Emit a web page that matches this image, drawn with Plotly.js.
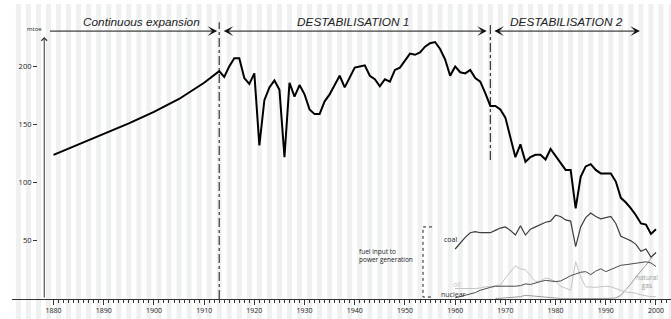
<!DOCTYPE html>
<html>
<head>
<meta charset="utf-8">
<script src="https://cdn.plot.ly/plotly-3.0.1.min.js"></script>
<style>html,body{margin:0;padding:0;background:#fff;}#chart{width:671px;height:319px;}</style>
</head>
<body>
<div id="chart"></div>
<script>
// ---- Data ----
const mainYears = [1880,1885,1890,1895,1900,1905,1910,1913,1914,1915,1916,1917,1918,1919,1920,1921,1922,1923,1924,1925,1926,1927,1928,1929,1930,1931,1932,1933,1934,1935,1936,1937,1938,1939,1940,1941,1942,1943,1944,1945,1946,1947,1948,1949,1950,1951,1952,1953,1954,1955,1956,1957,1958,1959,1960,1961,1962,1963,1964,1965,1966,1967,1968,1969,1970,1971,1972,1973,1974,1975,1976,1977,1978,1979,1980,1981,1982,1983,1984,1985,1986,1987,1988,1989,1990,1991,1992,1993,1994,1995,1996,1997,1998,1999,2000];
const mainValues = [124,133,142,151,161,172,186,196,191,200,207,207,190,185,194,132,171,182,188,180,122,186,174,184,176,163,159,159,170,176,184,192,182,191,199,200,201,192,189,183,189,187,197,199,205,211,210,212,217,220,221,215,206,192,200,195,194,197,190,187,177,166,166,163,156,140,122,133,118,122,124,124,120,129,123,118,111,111,78,105,114,116,111,108,108,108,101,87,83,78,72,65,64,56,60];

const powerYears = [1960,1961,1962,1963,1964,1965,1966,1967,1968,1969,1970,1971,1972,1973,1974,1975,1976,1977,1978,1979,1980,1981,1982,1983,1984,1985,1986,1987,1988,1989,1990,1991,1992,1993,1994,1995,1996,1997,1998,1999,2000];
const coalValues = [43,48,53,57,58,57,57,57,59,61,62,59,55,63,55,60,62,64,66,67,72,71,68,67,45,62,70,74,71,69,70,71,65,54,52,50,47,41,43,36,40];
const oilValues = [9,9,8.5,8.5,9,9.5,10.5,10.5,11,12,18,23,28.5,26,25,20,15,15.5,18,17,15,11,9.5,7.5,32,19,10.5,10,10,10.5,11,10.5,9,8,6,5.5,5,3.5,2.5,2,2];
const nuclearValues = [1,2,3,4,5.5,7.5,9,10,11,11,11,10.5,11,11.5,13,12.5,14,15,16,15.5,15,15.5,18,20,21.5,23,23.5,21,24,26,23.5,25.5,27,29,29.5,30,30.5,31,32,31,28];
const gasYears = [1968,1969,1970,1971,1972,1973,1974,1975,1976,1977,1978,1979,1980,1981,1982,1983,1984,1985,1986,1987,1988,1989,1990,1991,1992,1993,1994,1995,1996,1997,1998,1999,2000];
const gasValues = [0.3,0.6,1,1.5,2,2,3.2,2.8,2,1.5,1,0.8,0.5,0.4,0.3,0.3,0.3,0.3,0.3,0.3,0.3,0.4,0.5,0.5,1,3,8,13,19,24,29,35,40];

const xTickVals = [1880,1890,1900,1910,1920,1930,1940,1950,1960,1970,1980,1990,2000];
const yTickVals = [50,100,150,200];

const phaseLines = [1913, 1967];
const phaseNames = ['Continuous expansion', 'DESTABILISATION 1', 'DESTABILISATION 2'];
const phaseStart = [1879, 1913.6, 1967.5];
const phaseEnd = [1912.6, 1966.3, 1996.8];

// ---- Layout ----
const X0 = 1871.73, X1 = 2002.99;
const Y0 = -17.2, Y1 = 253.7;

const traces = [
  {x: gasYears, y: gasValues, mode: 'lines', line: {color: '#9a9a9a', width: 1}},
  {x: powerYears, y: oilValues, mode: 'lines', line: {color: '#c4c4c4', width: 1}},
  {x: powerYears, y: nuclearValues, mode: 'lines', line: {color: '#4a4a4a', width: 1}},
  {x: powerYears, y: coalValues, mode: 'lines', line: {color: '#3c3c3c', width: 1.2}},
  {x: mainYears, y: mainValues, mode: 'lines', line: {color: '#000', width: 2}}
];

const shapes = [];
for (let yr = 1871; yr <= 2003; yr++) {
  if (yr % 2 === 1) {
    shapes.push({type: 'rect', xref: 'x', yref: 'paper', x0: yr - 0.5, x1: yr + 0.5, y0: 0, y1: 1,
      fillcolor: '#eff1f1', line: {width: 0}, layer: 'below'});
  }
}
shapes.push({type: 'line', xref: 'x', yref: 'y', x0: phaseLines[0], x1: phaseLines[0], y0: 0, y1: 238,
  line: {color: '#111', width: 1, dash: 'dashdot'}});
shapes.push({type: 'line', xref: 'x', yref: 'y', x0: phaseLines[1], x1: phaseLines[1], y0: 119.5, y1: 238,
  line: {color: '#111', width: 1, dash: 'dashdot'}});
shapes.push({type: 'path', xref: 'x', yref: 'y',
  path: 'M 1955.4 62 L 1953.6 62 L 1953.6 1.7 L 1955.4 1.7',
  line: {color: '#222', width: 1, dash: 'dot'}});

const fontFam = 'Liberation Sans, Arial, sans-serif';
const annotations = [
  {x: 1878.15, y: 225.3, ax: 1878.15, ay: 0, axref: 'x', ayref: 'y', xref: 'x', yref: 'y',
   text: '', showarrow: true, arrowhead: 4, arrowsize: 1.1, arrowwidth: 1, arrowcolor: '#333'},
  {x: 1876.3, y: 232.2, xref: 'x', yref: 'y', text: 'mtoe', showarrow: false,
   font: {family: 'Open Sans', size: 6, color: '#222'}},
  {x: phaseEnd[0], y: 230.4, ax: phaseStart[0], ay: 230.4, axref: 'x', ayref: 'y', xref: 'x', yref: 'y',
   text: '', showarrow: true, arrowhead: 3, arrowsize: 1.6, arrowwidth: 1, arrowcolor: '#111'},
  {x: phaseEnd[1], y: 230.4, ax: phaseStart[1], ay: 230.4, axref: 'x', ayref: 'y', xref: 'x', yref: 'y',
   text: '', showarrow: true, arrowhead: 3, startarrowhead: 3, arrowside: 'end+start', arrowsize: 1.6, startarrowsize: 1.6, arrowwidth: 1, arrowcolor: '#111'},
  {x: phaseEnd[2], y: 230.4, ax: phaseStart[2], ay: 230.4, axref: 'x', ayref: 'y', xref: 'x', yref: 'y',
   text: '', showarrow: true, arrowhead: 3, startarrowhead: 3, arrowside: 'end+start', arrowsize: 1.6, startarrowsize: 1.6, arrowwidth: 1, arrowcolor: '#111'},
  {x: 1897.5, y: 238.5, xref: 'x', yref: 'y', text: '<i>' + phaseNames[0] + '</i>', showarrow: false,
   font: {family: fontFam, size: 11.8, color: '#222'}},
  {x: 1939.6, y: 238.5, xref: 'x', yref: 'y', text: '<i>' + phaseNames[1] + '</i>', showarrow: false,
   font: {family: fontFam, size: 11.8, color: '#222'}},
  {x: 1982.1, y: 238.5, xref: 'x', yref: 'y', text: '<i>' + phaseNames[2] + '</i>', showarrow: false,
   font: {family: fontFam, size: 11.8, color: '#222'}},
  {x: 1940.4, y: 37, xref: 'x', yref: 'y', xanchor: 'left', align: 'left', text: 'fuel input to<br>power generation',
   showarrow: false, font: {family: 'Open Sans', size: 6.5, color: '#222'}},
  {x: 1960.8, y: 51.6, xref: 'x', yref: 'y', xanchor: 'right', text: 'coal', showarrow: false,
   font: {family: 'Open Sans', size: 7, color: '#222'}},
  {x: 1960.4, y: 12.9, xref: 'x', yref: 'y', text: 'oil', showarrow: false,
   font: {family: 'Open Sans', size: 7, color: '#c4c4c4'}},
  {x: 1959.6, y: 4.3, xref: 'x', yref: 'y', text: 'nuclear', showarrow: false,
   font: {family: 'Open Sans', size: 7, color: '#333'}},
  {x: 1998.3, y: 15, xref: 'x', yref: 'y', text: 'natural<br>gas', showarrow: false,
   font: {family: 'Open Sans', size: 6.5, color: '#9a9a9a'}}
];

const layout = {
  width: 671, height: 319,
  margin: {l: 12, r: 0, t: 4, b: 0, pad: 0},
  paper_bgcolor: '#fff', plot_bgcolor: '#fff',
  showlegend: false,
  xaxis: {
    range: [X0, X1], anchor: 'free', position: 0.0635,
    showgrid: false, zeroline: false,
    showline: true, linecolor: '#333', linewidth: 1,
    tickmode: 'array', tickvals: xTickVals, ticktext: xTickVals.map(String),
    ticks: 'outside', ticklen: 5, tickwidth: 1, tickcolor: '#333',
    tickfont: {family: 'Open Sans', size: 7, color: '#222'},
    minor: {tickmode: 'array', tickvals: Array.from({length: 123}, (_, i) => 1880 + i),
            ticks: 'outside', ticklen: 3, tickwidth: 1, tickcolor: '#333', showgrid: false}
  },
  yaxis: {
    range: [Y0, Y1], anchor: 'free', position: 0.0379,
    showgrid: false, zeroline: false, showline: false,
    tickmode: 'array', tickvals: yTickVals, ticktext: yTickVals.map(String),
    ticks: 'outside', ticklen: 4, tickwidth: 1, tickcolor: '#333',
    tickfont: {family: 'Open Sans', size: 7.5, color: '#222'}
  },
  shapes: shapes,
  annotations: annotations
};

Plotly.newPlot('chart', traces, layout, {staticPlot: true, displayModeBar: false});
</script>
</body>
</html>
